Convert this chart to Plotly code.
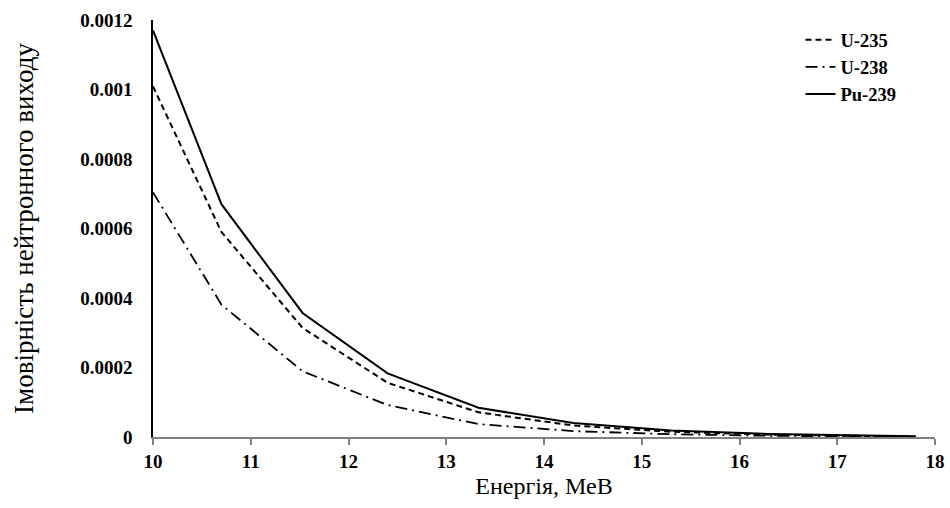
import plotly.graph_objects as go

energy = [10, 10.7, 11.53, 12.4, 13.33, 14.3, 15.3, 16.3, 17.3, 17.8]
u235 = [0.001009, 0.00059, 0.000314, 0.000156, 0.000071, 0.000033, 0.000015, 0.000007, 0.000003, 0.0000015]
u238 = [0.000704, 0.000381, 0.000189, 0.000092, 0.000037, 0.000017, 0.000008, 0.0000035, 0.0000015, 0.0000007]
pu239 = [0.00117, 0.00067, 0.000357, 0.000183, 0.000084, 0.000040, 0.000019, 0.0000085, 0.000004, 0.000002]

series_names = ["U-235", "U-238", "Pu-239"]
x_ticks = [10, 11, 12, 13, 14, 15, 16, 17, 18]
y_ticks = [0, 0.0002, 0.0004, 0.0006, 0.0008, 0.001, 0.0012]
y_tick_text = ["0", "0.0002", "0.0004", "0.0006", "0.0008", "0.001", "0.0012"]

fig = go.Figure()
fig.add_trace(go.Scatter(x=energy, y=u235, name=series_names[0], mode="lines",
                         line=dict(color="black", width=2, dash="6px,4px")))
fig.add_trace(go.Scatter(x=energy, y=u238, name=series_names[1], mode="lines",
                         line=dict(color="black", width=1.8, dash="12px,5px,2px,5px")))
fig.add_trace(go.Scatter(x=energy, y=pu239, name=series_names[2], mode="lines",
                         line=dict(color="black", width=2)))

serif = "Liberation Serif, Times New Roman, serif"
fig.update_layout(
    width=950, height=508,
    margin=dict(l=153, r=15, t=20, b=71, autoexpand=False),
    plot_bgcolor="white", paper_bgcolor="white",
    font=dict(family=serif, color="black"),
    showlegend=True,
    legend=dict(x=0.828, y=0.997, xanchor="left", yanchor="top",
                font=dict(family=serif, size=18.5, color="black", weight="bold"),
                bgcolor="rgba(0,0,0,0)", tracegroupgap=0),
    xaxis=dict(range=[10, 18], tickvals=x_ticks, ticks="outside", ticklen=6,
               tickcolor="#808080", tickwidth=1.5, automargin=False,
               showline=True, linecolor="#808080", linewidth=2,
               showgrid=False, zeroline=False, ticklabelstandoff=0,
               tickfont=dict(family=serif, size=19, color="black", weight="bold"),
               title=dict(text="Енергія, МеВ", font=dict(family=serif, size=24, color="black"),
                          standoff=6)),
    yaxis=dict(range=[0, 0.0012], tickvals=y_ticks, ticktext=y_tick_text, ticks="",
               showline=True, linecolor="black", linewidth=1.5, automargin=False,
               showgrid=False, zeroline=False, ticklabelstandoff=15,
               tickfont=dict(family=serif, size=19, color="black", weight="bold"),
               title=dict(text="Імовірність нейтронного виходу",
                          font=dict(family=serif, size=27, color="black"), standoff=39)),
)

fig.write_html("out.html", config={"displayModeBar": False},
               post_script="document.body.style.margin='0';document.body.style.overflow='hidden';")
